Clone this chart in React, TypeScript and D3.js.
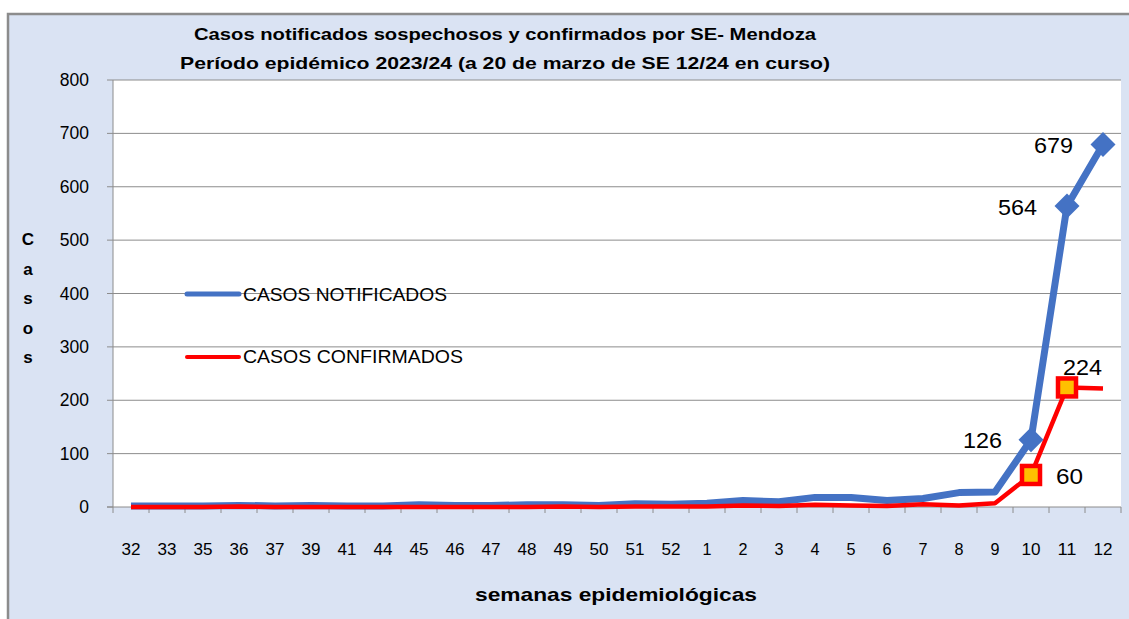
import React from "react";
import * as d3 from "d3";

const weeks = ["32","33","35","36","37","39","41","44","45","46","47","48","49","50","51","52","1","2","3","4","5","6","7","8","9","10","11","12"];
const notificados = [2,2,2,3,2,3,2,2,4,3,3,4,4,3,6,5,7,12,10,18,18,12,16,27,28,126,564,679];
const confirmados = [0,0,0,1,0,0,0,0,0,0,0,0,1,0,1,1,1,3,2,4,3,2,5,3,7,60,224,222];
const yTicks = [0,100,200,300,400,500,600,700,800];
const markNot = [25, 26, 27];
const markConf = [25, 26];

export default function App() {
  const W = 1129, H = 619;
  const left = 113, right = 1121, top = 80, bottom = 507;
  const x = d3.scaleBand<string>().domain(weeks).range([left, right]);
  const y = d3.scaleLinear().domain([0, 800]).range([bottom, top]);
  const cx = (i: number) => (x(weeks[i]) as number) + x.bandwidth() / 2;
  const line = d3.line<number>().x((_, i) => cx(i)).y((d) => y(d));
  const font = "'Liberation Sans', Arial, sans-serif";
  const dia = 12.5;
  return (
    <svg width={W} height={H} style={{ position: "absolute", left: 0, top: 0, display: "block" }} fontFamily={font}>
      <rect x={0} y={0} width={W} height={H} fill="#fff" />
      <rect x={8} y={14} width={W + 10} height={H + 10} fill="#DAE3F3" stroke="#8c8c8c" strokeWidth={2.5} />
      <rect x={left} y={top} width={right - left} height={bottom - top} fill="#fff" />
      <text x={505} y={40} textAnchor="middle" fontSize={17} fontWeight="bold" textLength={622} lengthAdjust="spacingAndGlyphs">Casos notificados sospechosos y confirmados por SE- Mendoza</text>
      <text x={505} y={69} textAnchor="middle" fontSize={17} fontWeight="bold" textLength={650} lengthAdjust="spacingAndGlyphs">Período epidémico 2023/24 (a 20 de marzo de SE 12/24 en curso)</text>
      {yTicks.map((t) => (
        <g key={t}>
          {t > 0 && <line x1={left} x2={right} y1={y(t)} y2={y(t)} stroke="#8c8c8c" strokeWidth={1} />}
          <line x1={left - 6} x2={left} y1={y(t)} y2={y(t)} stroke="#8c8c8c" strokeWidth={1} />
          <text x={89} y={y(t) + 6} textAnchor="end" fontSize={17.5} fill="#000">{t}</text>
        </g>
      ))}
      <line x1={left} x2={left} y1={top} y2={bottom} stroke="#8c8c8c" strokeWidth={1} />
      <line x1={left - 6} x2={right} y1={bottom} y2={bottom} stroke="#8c8c8c" strokeWidth={1} />
      {weeks.map((w, i) => (
        <g key={w}>
          <line x1={(x(w) as number)} x2={(x(w) as number)} y1={bottom} y2={bottom + 6} stroke="#8c8c8c" strokeWidth={1} />
          <text x={cx(i)} y={555} textAnchor="middle" fontSize={16.5} textLength={w.length > 1 ? 19 : 9} lengthAdjust="spacingAndGlyphs">{w}</text>
        </g>
      ))}
      <line x1={right} x2={right} y1={bottom} y2={bottom + 6} stroke="#8c8c8c" strokeWidth={1} />
      <text x={616} y={601} textAnchor="middle" fontSize={19} fontWeight="bold" textLength={282} lengthAdjust="spacingAndGlyphs">semanas epidemiológicas</text>
      {["C", "a", "s", "o", "s"].map((c, i) => (
        <text key={i} x={28} y={245 + i * 29.5} textAnchor="middle" fontSize={17} fontWeight="bold">{c}</text>
      ))}
      <path d={line(notificados) || ""} fill="none" stroke="#4472C4" strokeWidth={7} strokeLinejoin="round" />
      <path d={line(confirmados) || ""} fill="none" stroke="#FF0000" strokeWidth={4.5} strokeLinejoin="round" />
      {markNot.map((i) => (
        <path key={i} d={`M${cx(i)},${y(notificados[i]) - dia}L${cx(i) + dia},${y(notificados[i])}L${cx(i)},${y(notificados[i]) + dia}L${cx(i) - dia},${y(notificados[i])}Z`} fill="#4472C4" />
      ))}
      {markConf.map((i) => (
        <rect key={i} x={cx(i) - 9} y={y(confirmados[i]) - 9} width={18} height={18} fill="#FFC000" stroke="#FF0000" strokeWidth={4.5} />
      ))}
      <text x={1034} y={153} fontSize={22.5} textLength={39} lengthAdjust="spacingAndGlyphs">679</text>
      <text x={998} y={215} fontSize={22.5} textLength={39} lengthAdjust="spacingAndGlyphs">564</text>
      <text x={963} y={448} fontSize={22.5} textLength={39} lengthAdjust="spacingAndGlyphs">126</text>
      <text x={1056} y={484} fontSize={22.5} textLength={27} lengthAdjust="spacingAndGlyphs">60</text>
      <text x={1063} y={375} fontSize={22.5} textLength={39} lengthAdjust="spacingAndGlyphs">224</text>
      <line x1={187} x2={239} y1={294} y2={294} stroke="#4472C4" strokeWidth={5} strokeLinecap="round" />
      <text x={243} y={301} fontSize={19} textLength={204} lengthAdjust="spacingAndGlyphs">CASOS NOTIFICADOS</text>
      <line x1={187} x2={239} y1={357} y2={357} stroke="#FF0000" strokeWidth={4} strokeLinecap="round" />
      <text x={243} y={363} fontSize={19} textLength={220} lengthAdjust="spacingAndGlyphs">CASOS CONFIRMADOS</text>
    </svg>
  );
}
